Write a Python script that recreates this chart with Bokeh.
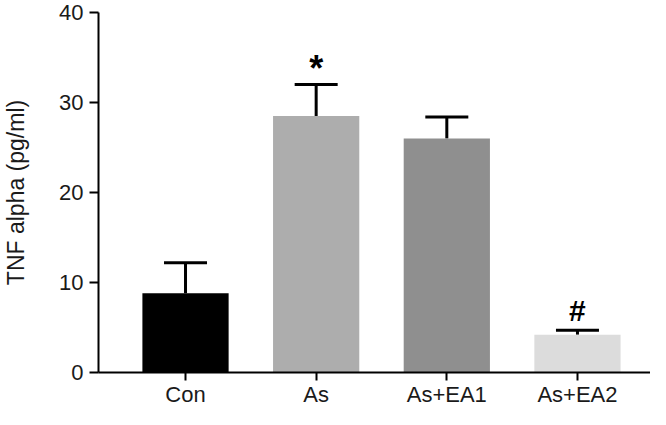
from bokeh.plotting import figure
from bokeh.models import Range1d, FixedTicker, Whisker, ColumnDataSource, TeeHead
from bokeh.core.properties import value
from bokeh.embed import file_html
from bokeh.resources import INLINE

categories = ["Con", "As", "As+EA1", "As+EA2"]
means = [8.8, 28.5, 26.0, 4.2]
upper = [12.2, 32.0, 28.4, 4.7]
colors = ["#000000", "#adadad", "#8f8f8f", "#dcdcdc"]
marks = ["", "*", "", "#"]
y_ticks = [0, 10, 20, 30, 40]
y_title = "TNF alpha (pg/ml)"

FONT = "Liberation Sans"
xs = list(range(len(categories)))

src = ColumnDataSource(dict(x=xs, top=means, upper=upper, color=colors))

p = figure(width=650, height=409, output_backend="svg", toolbar_location=None,
           x_range=Range1d(-0.666, 3.559), y_range=Range1d(0, 40),
           min_border_left=98, min_border_right=0, min_border_top=12, min_border_bottom=0)

p.vbar(x="x", top="top", width=0.66, color="color", line_color=None, source=src)
w = Whisker(base="x", lower="top", upper="upper", source=src, line_width=3, line_color="black",
            lower_head=None, upper_head=TeeHead(size=43, line_width=3, line_color="black"))
p.add_layout(w)

mark_style = {"*": dict(size="36px", offset=4), "#": dict(size="30px", offset=-3)}
for i, m in enumerate(marks):
    if not m:
        continue
    st = mark_style[m]
    p.text(x=[xs[i]], y=[upper[i]], text=[m], text_align="center", text_baseline="bottom",
           y_offset=st["offset"], text_font=value(FONT), text_font_style="bold",
           text_font_size=st["size"], text_color="black")

p.xgrid.visible = False
p.ygrid.visible = False
p.outline_line_color = None
p.background_fill_color = "white"
p.border_fill_color = "white"

p.xaxis.ticker = FixedTicker(ticks=xs)
p.xaxis.major_label_overrides = {i: c for i, c in zip(xs, categories)}
p.yaxis.ticker = FixedTicker(ticks=y_ticks)
for ax in (p.xaxis, p.yaxis):
    ax.axis_line_width = 2
    ax.axis_line_color = "black"
    ax.major_tick_line_width = 2
    ax.major_tick_line_color = "black"
    ax.major_tick_in = 0
    ax.major_tick_out = 9
    ax.minor_tick_line_color = None
    ax.major_label_text_font = FONT
    ax.major_label_text_font_size = "22px"
    ax.major_label_text_color = "#1a1a1a"
p.xaxis.major_tick_out = 8
p.xaxis.major_label_standoff = 1
p.yaxis.major_label_standoff = 6
p.yaxis.axis_label = y_title
p.yaxis.axis_label_text_font = FONT
p.yaxis.axis_label_text_font_size = "23px"
p.yaxis.axis_label_text_font_style = "normal"
p.yaxis.axis_label_text_color = "#1a1a1a"
p.yaxis.axis_label_standoff = 27

open("out.html", "w").write(file_html(p, INLINE))
